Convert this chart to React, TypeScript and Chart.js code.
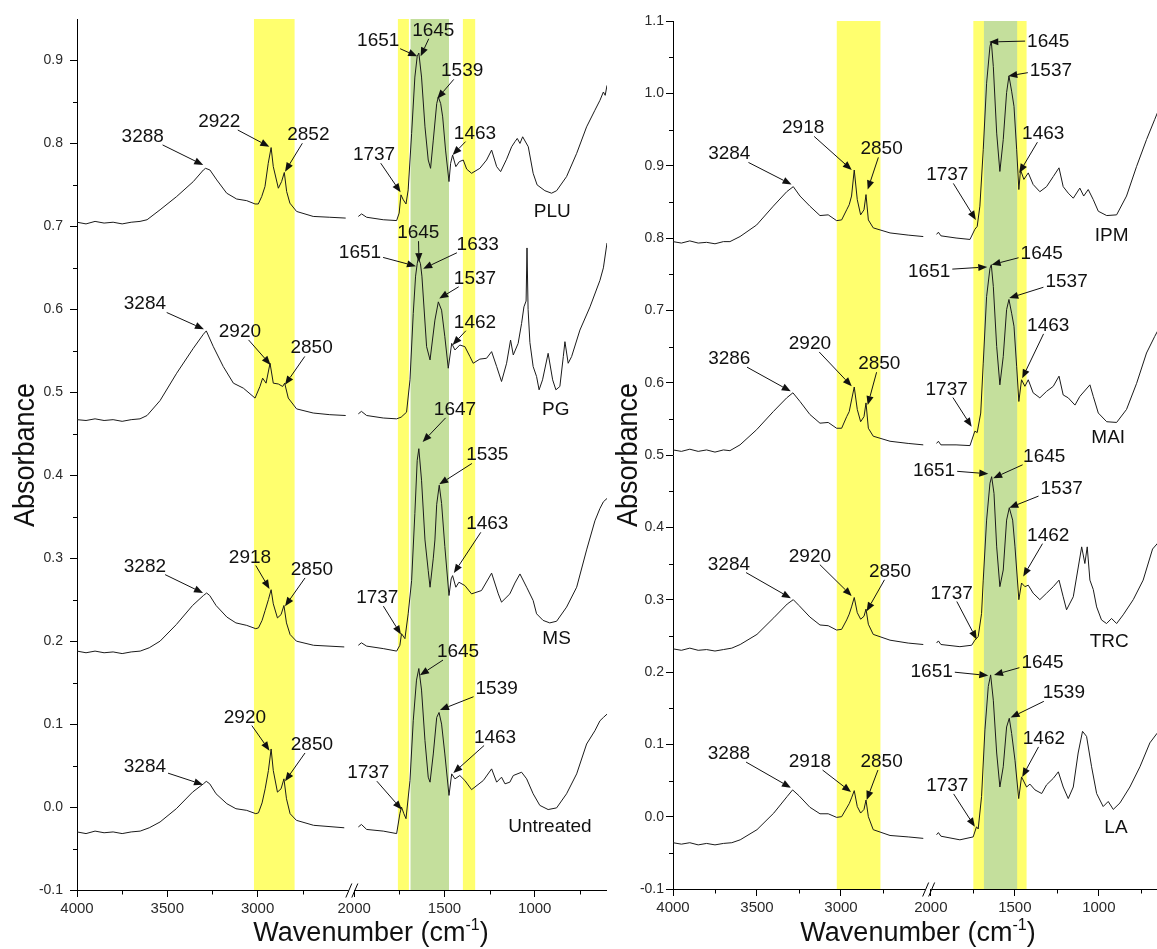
import React, { useEffect, useRef } from 'react';
import { Chart, registerables } from 'chart.js';

Chart.register(...registerables);

type Pair = [number, number];
type Label = [string, number, number, number | null, number | null];

// ---------- axis break: 4000..2480 shown as-is, 2000..600 shifted ----------
const BREAK_SHIFT = 465;
const BREAK_T = 2480;
const toT = (wn: number) => (wn > 2230 ? wn : wn + BREAK_SHIFT);
const toWn = (t: number) => (t >= BREAK_T ? t : t - BREAK_SHIFT);

const xMajorTicks = [4000, 3500, 3000, 2000, 1500, 1000];
const xMinorTicks = [3750, 3250, 2750, 1750, 1250, 750];
const X_MIN_WN = 600;
const X_MAX_WN = 4000;

const leftYMajor = [-0.1, 0, 0.1, 0.2, 0.3, 0.4, 0.5, 0.6, 0.7, 0.8, 0.9];
const leftYMinor = [-0.05, 0.05, 0.15, 0.25, 0.35, 0.45, 0.55, 0.65, 0.75, 0.85];
const rightYMajor = [-0.1, 0, 0.1, 0.2, 0.3, 0.4, 0.5, 0.6, 0.7, 0.8, 0.9, 1.0, 1.1];
const rightYMinor = [-0.05, 0.05, 0.15, 0.25, 0.35, 0.45, 0.55, 0.65, 0.75, 0.85, 0.95, 1.05];

// ---------- highlighted wavenumber bands ----------
const leftYellowBands: Pair[] = [[3020, 2795], [1758, 1697], [1398, 1330]];
const leftGreenBands: Pair[] = [[1688, 1475]];
const rightYellowBands: Pair[] = [[3025, 2765], [1747, 1430]];
const rightGreenBands: Pair[] = [[1684, 1486]];

// ---------- spectra (wavenumber, absorbance) ----------
const pluSpectrum: Pair[] = [
  [4000, 0.705], [3950, 0.703], [3900, 0.706], [3850, 0.704], [3800, 0.705], [3750, 0.703], [3700, 0.705],
  [3651, 0.706], [3612, 0.708], [3540, 0.72], [3448, 0.736], [3356, 0.754], [3300, 0.768], [3288, 0.77],
  [3264, 0.768], [3226, 0.756], [3171, 0.74], [3116, 0.733], [3060, 0.731], [3014, 0.727], [2996, 0.727],
  [2977, 0.736], [2959, 0.748], [2941, 0.776], [2925, 0.795], [2913, 0.772], [2885, 0.746], [2867, 0.754],
  [2852, 0.765], [2839, 0.742], [2821, 0.728], [2784, 0.718], [2692, 0.712], [2600, 0.711], [2512, 0.71],
  [1977, 0.712], [1959, 0.715], [1931, 0.711], [1839, 0.708], [1765, 0.707], [1751, 0.716], [1741, 0.738],
  [1728, 0.732], [1713, 0.727], [1701, 0.744], [1682, 0.812], [1664, 0.88], [1651, 0.905], [1642, 0.909],
  [1627, 0.88], [1608, 0.82], [1590, 0.78], [1577, 0.77], [1562, 0.804], [1543, 0.848], [1534, 0.856],
  [1521, 0.848], [1510, 0.832], [1494, 0.792], [1475, 0.754], [1466, 0.776], [1455, 0.786], [1437, 0.772],
  [1418, 0.778], [1396, 0.78], [1377, 0.769], [1350, 0.764], [1304, 0.77], [1267, 0.78], [1239, 0.792],
  [1211, 0.772], [1189, 0.766], [1156, 0.781], [1128, 0.796], [1110, 0.802], [1097, 0.806], [1082, 0.8],
  [1067, 0.808], [1036, 0.796], [1009, 0.764], [987, 0.75], [944, 0.743], [907, 0.74], [879, 0.743],
  [824, 0.76], [768, 0.788], [713, 0.82], [667, 0.84], [639, 0.852], [620, 0.862], [610, 0.858], [600, 0.87],
];

const pgSpectrum: Pair[] = [
  [4000, 0.467], [3950, 0.466], [3900, 0.468], [3850, 0.466], [3800, 0.467], [3750, 0.465], [3700, 0.467],
  [3651, 0.468], [3612, 0.472], [3540, 0.49], [3448, 0.523], [3356, 0.553], [3300, 0.57], [3284, 0.574],
  [3245, 0.555], [3190, 0.531], [3134, 0.511], [3079, 0.505], [3014, 0.493], [2987, 0.507], [2972, 0.517],
  [2953, 0.511], [2931, 0.535], [2913, 0.511], [2885, 0.51], [2861, 0.507], [2850, 0.511], [2830, 0.493],
  [2784, 0.48], [2692, 0.475], [2600, 0.473], [2512, 0.472],
  [1977, 0.474], [1960, 0.477], [1931, 0.472], [1839, 0.469], [1765, 0.468], [1740, 0.47], [1710, 0.476],
  [1691, 0.515], [1673, 0.595], [1660, 0.64], [1651, 0.655], [1645, 0.662], [1633, 0.655], [1625, 0.64],
  [1599, 0.555], [1580, 0.539], [1553, 0.587], [1534, 0.609], [1516, 0.599], [1498, 0.567], [1479, 0.529],
  [1460, 0.559], [1442, 0.551], [1415, 0.557], [1387, 0.555], [1359, 0.543], [1341, 0.535], [1304, 0.54],
  [1267, 0.541], [1239, 0.549], [1211, 0.531], [1184, 0.513], [1156, 0.535], [1134, 0.563], [1119, 0.545],
  [1092, 0.559], [1073, 0.583], [1060, 0.603], [1048, 0.61], [1043, 0.674], [1037, 0.6], [1027, 0.56],
  [1009, 0.531], [990, 0.519], [976, 0.503], [957, 0.515], [926, 0.547], [901, 0.515], [883, 0.503],
  [861, 0.507], [842, 0.543], [833, 0.561], [815, 0.535], [796, 0.543], [750, 0.575], [694, 0.603],
  [639, 0.635], [620, 0.65], [600, 0.68],
];

const msSpectrum: Pair[] = [
  [4000, 0.188], [3950, 0.186], [3900, 0.188], [3850, 0.186], [3800, 0.187], [3750, 0.185], [3700, 0.187],
  [3650, 0.188], [3600, 0.192], [3540, 0.2], [3450, 0.22], [3360, 0.243], [3300, 0.255], [3282, 0.258],
  [3265, 0.255], [3230, 0.243], [3170, 0.229], [3120, 0.222], [3060, 0.219], [3010, 0.215], [2995, 0.216],
  [2975, 0.225], [2958, 0.237], [2940, 0.25], [2925, 0.262], [2913, 0.245], [2890, 0.228], [2870, 0.232],
  [2854, 0.243], [2840, 0.222], [2820, 0.208], [2785, 0.2], [2690, 0.195], [2520, 0.193],
  [1977, 0.195], [1960, 0.198], [1931, 0.194], [1839, 0.191], [1765, 0.188], [1747, 0.195], [1738, 0.209],
  [1719, 0.203], [1701, 0.233], [1682, 0.273], [1664, 0.354], [1651, 0.418], [1642, 0.432], [1627, 0.394],
  [1608, 0.322], [1590, 0.285], [1580, 0.265], [1562, 0.3], [1553, 0.322], [1543, 0.365], [1529, 0.388],
  [1516, 0.366], [1498, 0.314], [1475, 0.255], [1463, 0.275], [1455, 0.279], [1437, 0.265], [1420, 0.271],
  [1387, 0.267], [1350, 0.257], [1295, 0.261], [1239, 0.282], [1202, 0.257], [1184, 0.247], [1138, 0.257],
  [1110, 0.27], [1082, 0.281], [1045, 0.265], [1009, 0.249], [990, 0.233], [954, 0.225], [917, 0.222],
  [879, 0.224], [824, 0.241], [768, 0.265], [713, 0.31], [667, 0.345], [639, 0.36], [620, 0.368], [600, 0.372],
];

const untreatedSpectrum: Pair[] = [
  [4000, -0.03], [3950, -0.032], [3900, -0.029], [3850, -0.031], [3800, -0.03], [3750, -0.032], [3700, -0.03],
  [3650, -0.029], [3600, -0.025], [3540, -0.018], [3450, -0.002], [3360, 0.018], [3300, 0.028], [3284, 0.031],
  [3265, 0.028], [3230, 0.016], [3170, 0.004], [3120, -0.002], [3060, -0.004], [3010, -0.008], [2995, -0.007],
  [2975, 0.005], [2958, 0.022], [2940, 0.044], [2925, 0.07], [2913, 0.044], [2890, 0.018], [2870, 0.022],
  [2854, 0.034], [2840, 0.01], [2820, -0.008], [2785, -0.016], [2690, -0.022], [2520, -0.025],
  [1977, -0.024], [1960, -0.021], [1931, -0.027], [1839, -0.029], [1765, -0.032], [1747, -0.008], [1738, 0.0],
  [1725, -0.008], [1713, -0.014], [1691, 0.032], [1673, 0.104], [1655, 0.153], [1642, 0.167], [1627, 0.141],
  [1608, 0.08], [1590, 0.036], [1580, 0.03], [1562, 0.064], [1543, 0.108], [1530, 0.114], [1516, 0.1],
  [1498, 0.064], [1475, 0.014], [1460, 0.04], [1442, 0.034], [1415, 0.038], [1387, 0.032], [1350, 0.021],
  [1285, 0.032], [1239, 0.046], [1211, 0.03], [1184, 0.036], [1165, 0.028], [1138, 0.03], [1119, 0.038],
  [1073, 0.042], [1045, 0.034], [1009, 0.016], [972, 0.002], [926, -0.003], [879, -0.001], [824, 0.016],
  [768, 0.04], [713, 0.076], [667, 0.092], [639, 0.104], [620, 0.108], [600, 0.112],
];

const ipmSpectrum: Pair[] = [
  [4000, 0.795], [3950, 0.793], [3900, 0.796], [3850, 0.793], [3800, 0.794], [3750, 0.792], [3700, 0.795],
  [3661, 0.795], [3601, 0.802], [3502, 0.818], [3403, 0.844], [3323, 0.864], [3284, 0.871], [3244, 0.858],
  [3185, 0.844], [3125, 0.831], [3076, 0.832], [3026, 0.824], [2996, 0.825], [2966, 0.839], [2951, 0.846],
  [2937, 0.858], [2921, 0.894], [2903, 0.853], [2883, 0.832], [2863, 0.839], [2851, 0.86], [2837, 0.825],
  [2808, 0.814], [2708, 0.807], [2600, 0.804], [2510, 0.802],
  [1966, 0.805], [1955, 0.808], [1940, 0.803], [1850, 0.8], [1767, 0.798], [1738, 0.812], [1724, 0.816],
  [1708, 0.844], [1688, 0.922], [1668, 1.014], [1648, 1.065], [1640, 1.072], [1628, 1.037], [1608, 0.945],
  [1589, 0.892], [1569, 0.936], [1549, 1.001], [1535, 1.024], [1519, 1.003], [1505, 0.982], [1489, 0.922],
  [1476, 0.867], [1466, 0.894], [1446, 0.881], [1420, 0.89], [1391, 0.874], [1351, 0.864], [1311, 0.871],
  [1271, 0.885], [1237, 0.897], [1212, 0.871], [1182, 0.862], [1152, 0.855], [1113, 0.869], [1090, 0.858],
  [1063, 0.867], [1033, 0.853], [1003, 0.837], [953, 0.831], [894, 0.832], [835, 0.858], [775, 0.899],
  [716, 0.936], [667, 0.964], [630, 0.985], [600, 1.0],
];

const maiSpectrum: Pair[] = [
  [4000, 0.507], [3950, 0.505], [3900, 0.508], [3850, 0.505], [3800, 0.507], [3750, 0.504], [3700, 0.507],
  [3661, 0.506], [3601, 0.514], [3502, 0.535], [3403, 0.56], [3323, 0.579], [3286, 0.586], [3244, 0.574],
  [3185, 0.556], [3125, 0.544], [3076, 0.545], [3026, 0.537], [2996, 0.537], [2966, 0.553], [2951, 0.56],
  [2937, 0.576], [2921, 0.594], [2903, 0.563], [2883, 0.546], [2863, 0.553], [2851, 0.572], [2837, 0.537],
  [2808, 0.526], [2708, 0.519], [2600, 0.516], [2510, 0.514],
  [1966, 0.516], [1955, 0.519], [1940, 0.514], [1850, 0.514], [1767, 0.513], [1738, 0.533], [1724, 0.531],
  [1703, 0.558], [1688, 0.627], [1668, 0.719], [1648, 0.758], [1640, 0.763], [1628, 0.733], [1608, 0.65],
  [1589, 0.597], [1569, 0.636], [1549, 0.701], [1535, 0.715], [1519, 0.696], [1505, 0.678], [1489, 0.622],
  [1476, 0.574], [1460, 0.604], [1440, 0.595], [1420, 0.604], [1391, 0.586], [1351, 0.579], [1311, 0.588],
  [1271, 0.595], [1237, 0.609], [1212, 0.583], [1182, 0.579], [1142, 0.569], [1113, 0.581], [1053, 0.597],
  [1033, 0.581], [1003, 0.558], [953, 0.546], [894, 0.545], [835, 0.563], [775, 0.599], [716, 0.641],
  [667, 0.664], [630, 0.68], [600, 0.69],
];

const trcSpectrum: Pair[] = [
  [4000, 0.232], [3950, 0.23], [3900, 0.233], [3850, 0.23], [3800, 0.231], [3750, 0.229], [3700, 0.231],
  [3650, 0.233], [3600, 0.238], [3500, 0.252], [3400, 0.275], [3320, 0.294], [3284, 0.3], [3250, 0.292],
  [3185, 0.276], [3125, 0.265], [3076, 0.264], [3026, 0.258], [2996, 0.259], [2966, 0.272], [2951, 0.28],
  [2937, 0.29], [2921, 0.303], [2903, 0.282], [2883, 0.273], [2863, 0.277], [2851, 0.287], [2837, 0.266],
  [2808, 0.252], [2708, 0.244], [2600, 0.24], [2510, 0.238],
  [1966, 0.24], [1955, 0.243], [1940, 0.238], [1827, 0.235], [1757, 0.237], [1738, 0.244], [1718, 0.249],
  [1698, 0.281], [1688, 0.327], [1668, 0.41], [1648, 0.461], [1638, 0.47], [1624, 0.447], [1608, 0.373],
  [1589, 0.318], [1569, 0.341], [1549, 0.41], [1533, 0.427], [1513, 0.41], [1499, 0.373], [1476, 0.3],
  [1460, 0.323], [1440, 0.318], [1420, 0.32], [1391, 0.309], [1351, 0.3], [1311, 0.309], [1271, 0.318],
  [1237, 0.327], [1212, 0.304], [1192, 0.286], [1152, 0.304], [1102, 0.373], [1083, 0.35], [1069, 0.373],
  [1053, 0.327], [1033, 0.314], [1013, 0.29], [984, 0.272], [954, 0.267], [924, 0.274], [894, 0.267],
  [855, 0.279], [795, 0.3], [736, 0.327], [680, 0.37], [650, 0.378], [620, 0.385], [600, 0.39],
];

const laSpectrum: Pair[] = [
  [4000, -0.036], [3950, -0.038], [3900, -0.036], [3850, -0.039], [3800, -0.037], [3750, -0.039], [3700, -0.037],
  [3650, -0.036], [3600, -0.032], [3500, -0.018], [3400, 0.005], [3320, 0.028], [3288, 0.037], [3250, 0.029],
  [3185, 0.013], [3125, 0.004], [3076, 0.004], [3026, -0.001], [2996, 0.0], [2966, 0.012], [2951, 0.018],
  [2937, 0.026], [2921, 0.036], [2903, 0.014], [2883, 0.005], [2863, 0.01], [2851, 0.023], [2837, 0.0],
  [2808, -0.018], [2708, -0.026], [2600, -0.028], [2510, -0.03],
  [1966, -0.025], [1955, -0.022], [1940, -0.027], [1827, -0.032], [1748, -0.028], [1728, -0.014], [1718, -0.017],
  [1698, 0.028], [1678, 0.12], [1658, 0.18], [1644, 0.196], [1628, 0.161], [1608, 0.088], [1589, 0.041],
  [1569, 0.069], [1549, 0.124], [1533, 0.136], [1519, 0.115], [1499, 0.078], [1477, 0.025], [1460, 0.055],
  [1430, 0.041], [1410, 0.045], [1380, 0.037], [1340, 0.032], [1311, 0.044], [1271, 0.053], [1241, 0.062],
  [1212, 0.041], [1182, 0.025], [1152, 0.041], [1123, 0.088], [1097, 0.118], [1073, 0.111], [1043, 0.069],
  [1013, 0.032], [974, 0.014], [944, 0.021], [914, 0.01], [874, 0.019], [815, 0.041], [755, 0.069],
  [696, 0.102], [654, 0.115], [620, 0.125], [600, 0.13],
];

// ---------- peak labels: text, wn, abs (text centre), arrow tip wn, abs ----------
const leftLabels: Label[] = [
  ['3288', 3636, 0.81, 3301, 0.774], ['2922', 3212, 0.828, 2935, 0.796], ['2852', 2719, 0.812, 2848, 0.766],
  ['1737', 1890, 0.788, 1743, 0.741], ['1651', 1867, 0.926, 1651, 0.905], ['1645', 1562, 0.938, 1632, 0.905],
  ['1539', 1402, 0.889, 1540, 0.854], ['1463', 1331, 0.814, 1455, 0.786], ['PLU', 903, 0.72, null, null],
  ['3284', 3624, 0.608, 3297, 0.576], ['2920', 3098, 0.575, 2928, 0.533], ['2850', 2701, 0.555, 2848, 0.509],
  ['1651', 1968, 0.67, 1658, 0.652], ['1645', 1645, 0.694, 1641, 0.657], ['1633', 1316, 0.68, 1618, 0.649],
  ['1537', 1331, 0.639, 1529, 0.613], ['1462', 1331, 0.586, 1455, 0.557], ['PG', 884, 0.481, null, null],
  ['3282', 3624, 0.292, 3302, 0.258], ['2918', 3042, 0.303, 2934, 0.263], ['2850', 2699, 0.288, 2848, 0.242],
  ['1647', 1442, 0.481, 1621, 0.44], ['1535', 1263, 0.426, 1529, 0.389], ['1463', 1263, 0.343, 1448, 0.282],
  ['1737', 1872, 0.254, 1741, 0.208], ['MS', 879, 0.205, null, null],
  ['3284', 3624, 0.05, 3302, 0.027], ['2920', 3070, 0.11, 2934, 0.068], ['2850', 2699, 0.077, 2848, 0.031],
  ['1737', 1922, 0.043, 1737, -0.003], ['1645', 1425, 0.189, 1636, 0.159], ['1539', 1211, 0.144, 1525, 0.117],
  ['1463', 1220, 0.086, 1451, 0.041], ['Untreated', 916, -0.022, null, null],
];

const rightLabels: Label[] = [
  ['3284', 3665, 0.918, 3294, 0.874], ['2918', 3225, 0.954, 2936, 0.894], ['2850', 2758, 0.925, 2841, 0.867],
  ['1737', 1902, 0.889, 1732, 0.825], ['1645', 1301, 1.073, 1652, 1.071], ['1537', 1285, 1.034, 1539, 1.024],
  ['1463', 1331, 0.946, 1474, 0.89], ['IPM', 924, 0.805, null, null],
  ['3286', 3665, 0.635, 3299, 0.588], ['2920', 3185, 0.656, 2936, 0.595], ['2850', 2772, 0.628, 2841, 0.569],
  ['1737', 1906, 0.593, 1757, 0.539], ['1651', 2010, 0.755, 1664, 0.76], ['1645', 1340, 0.781, 1638, 0.763],
  ['1537', 1192, 0.742, 1533, 0.717], ['1463', 1301, 0.681, 1456, 0.606], ['MAI', 944, 0.526, null, null],
  ['3284', 3667, 0.351, 3298, 0.302], ['2920', 3185, 0.362, 2936, 0.305], ['2850', 2708, 0.341, 2847, 0.284],
  ['1737', 1876, 0.311, 1727, 0.245], ['1651', 1981, 0.48, 1658, 0.474], ['1645', 1325, 0.5, 1629, 0.468],
  ['1537', 1221, 0.456, 1533, 0.427], ['1462', 1301, 0.391, 1450, 0.332], ['TRC', 938, 0.244, null, null],
  ['3288', 3667, 0.089, 3298, 0.04], ['2918', 3185, 0.078, 2940, 0.034], ['2850', 2758, 0.078, 2847, 0.023],
  ['1737', 1902, 0.045, 1738, -0.014], ['1651', 1995, 0.203, 1658, 0.195], ['1645', 1335, 0.215, 1624, 0.196],
  ['1539', 1208, 0.173, 1525, 0.137], ['1462', 1327, 0.11, 1456, 0.055], ['LA', 898, -0.013, null, null],
];

// ---------- styling / layout ----------
const FONT = '"Liberation Sans", Arial, sans-serif';
const YELLOW = '#FFFF6E';
const GREEN = '#C4DF9C';
const INK = '#111111';
const LABEL_PX = 19;

interface Layout {
  width: number; padTop: number; padRight: number; axisW: number; axisH: number;
  yLabelPad: number; yTitleX: number; yTitleY: number; xTitleX: number; xTitleY: number;
}
interface Panel {
  spectra: Pair[][]; labels: Label[]; yellow: Pair[]; green: Pair[];
  yMin: number; yMax: number; yMajor: number[]; yMinor: number[]; layout: Layout;
}

const leftPanel: Panel = {
  spectra: [pluSpectrum, pgSpectrum, msSpectrum, untreatedSpectrum],
  labels: leftLabels, yellow: leftYellowBands, green: leftGreenBands,
  yMin: -0.1, yMax: 0.95, yMajor: leftYMajor, yMinor: leftYMinor,
  layout: { width: 620, padTop: 19, padRight: 13, axisW: 77, axisH: 59, yLabelPad: 7, yTitleX: 26, yTitleY: 455, xTitleX: 371, xTitleY: 941 },
};
const rightPanel: Panel = {
  spectra: [ipmSpectrum, maiSpectrum, trcSpectrum, laSpectrum],
  labels: rightLabels, yellow: rightYellowBands, green: rightGreenBands,
  yMin: -0.1, yMax: 1.1, yMajor: rightYMajor, yMinor: rightYMinor,
  layout: { width: 600, padTop: 21, padRight: 34, axisW: 73, axisH: 60, yLabelPad: 2, yTitleX: 29, yTitleY: 455, xTitleX: 318, xTitleY: 941 },
};

function toPoints(spec: Pair[]) {
  const pts: { x: number; y: number | null }[] = [];
  let prev: number | null = null;
  for (const [wn, a] of spec) {
    if (prev !== null && prev > 2230 && wn <= 2230) pts.push({ x: BREAK_T - 5, y: null });
    pts.push({ x: toT(wn), y: a });
    prev = wn;
  }
  return pts;
}

function drawArrow(ctx: CanvasRenderingContext2D, x0: number, y0: number, x1: number, y1: number) {
  const ang = Math.atan2(y1 - y0, x1 - x0);
  const L = 9, W = 3.6;
  const bx = x1 - L * Math.cos(ang), by = y1 - L * Math.sin(ang);
  ctx.beginPath(); ctx.moveTo(x0, y0); ctx.lineTo(bx, by); ctx.stroke();
  ctx.beginPath();
  ctx.moveTo(x1, y1);
  ctx.lineTo(bx + W * Math.sin(ang), by - W * Math.cos(ang));
  ctx.lineTo(bx - W * Math.sin(ang), by + W * Math.cos(ang));
  ctx.closePath(); ctx.fill();
}

function makeOverlay(p: Panel) {
  return {
    id: 'ftirOverlay',
    beforeDatasetsDraw(chart: any) {
      const { ctx, chartArea: a } = chart;
      const xs = chart.scales.x;
      const band = (r: Pair, color: string) => {
        const x1 = xs.getPixelForValue(toT(r[0])), x2 = xs.getPixelForValue(toT(r[1]));
        ctx.fillStyle = color;
        ctx.fillRect(Math.min(x1, x2), a.top, Math.abs(x2 - x1), a.bottom - a.top);
      };
      ctx.save();
      p.yellow.forEach((r) => band(r, YELLOW));
      p.green.forEach((r) => band(r, GREEN));
      ctx.restore();
    },
    afterDatasetsDraw(chart: any) {
      const { ctx } = chart;
      const xs = chart.scales.x, ys = chart.scales.y;
      ctx.save();
      ctx.font = `${LABEL_PX}px ${FONT}`;
      ctx.fillStyle = INK; ctx.strokeStyle = INK; ctx.lineWidth = 1;
      ctx.textAlign = 'center'; ctx.textBaseline = 'alphabetic';
      const capHalf = LABEL_PX * 0.358;
      for (const [text, wn, ab, twn, tab] of p.labels) {
        const cx = xs.getPixelForValue(toT(wn)), cy = ys.getPixelForValue(ab);
        ctx.fillText(text, cx, cy + capHalf);
        if (twn == null || tab == null) continue;
        const tx = xs.getPixelForValue(toT(twn)), ty = ys.getPixelForValue(tab);
        const hw = ctx.measureText(text).width / 2 + 2, hh = capHalf + 3;
        const dx = tx - cx, dy = ty - cy;
        const s = Math.min(dx !== 0 ? hw / Math.abs(dx) : Infinity, dy !== 0 ? hh / Math.abs(dy) : Infinity);
        if (s >= 1) continue;
        drawArrow(ctx, cx + dx * s, cy + dy * s, tx, ty);
      }
      ctx.restore();
    },
    afterDraw(chart: any) {
      const { ctx, chartArea: a } = chart;
      const xs = chart.scales.x, ys = chart.scales.y;
      const L = p.layout;
      ctx.save();
      ctx.strokeStyle = '#000'; ctx.lineWidth = 1;
      const y0 = Math.round(a.bottom) + 0.5;
      const xb = xs.getPixelForValue(BREAK_T - 2);
      ctx.beginPath();
      ctx.moveTo(a.left, y0); ctx.lineTo(xb - 3, y0);
      ctx.moveTo(xb + 3, y0); ctx.lineTo(a.right, y0);
      ctx.stroke();
      for (const off of [-3, 3]) {
        ctx.beginPath(); ctx.moveTo(xb + off - 3, y0 + 7); ctx.lineTo(xb + off + 3, y0 - 7); ctx.stroke();
      }
      ctx.beginPath();
      xMinorTicks.forEach((wn) => {
        const x = Math.round(xs.getPixelForValue(toT(wn))) + 0.5;
        ctx.moveTo(x, y0); ctx.lineTo(x, y0 + 4);
      });
      p.yMinor.forEach((v) => {
        const y = Math.round(ys.getPixelForValue(v)) + 0.5;
        ctx.moveTo(a.left - 4, y); ctx.lineTo(a.left, y);
      });
      ctx.stroke();

      // axis titles
      ctx.fillStyle = INK;
      ctx.save();
      ctx.translate(L.yTitleX, L.yTitleY);
      ctx.rotate(-Math.PI / 2);
      ctx.scale(0.9, 1);
      ctx.font = `30px ${FONT}`;
      ctx.textAlign = 'center'; ctx.textBaseline = 'middle';
      ctx.fillText('Absorbance', 0, 0);
      ctx.restore();

      const main = 'Wavenumber (cm', sup = '-1', tail = ')';
      ctx.font = `27px ${FONT}`;
      const w1 = ctx.measureText(main).width, w3 = ctx.measureText(tail).width;
      ctx.font = `16px ${FONT}`;
      const w2 = ctx.measureText(sup).width;
      let x = L.xTitleX - (w1 + w2 + w3) / 2;
      ctx.textAlign = 'left'; ctx.textBaseline = 'alphabetic';
      ctx.font = `27px ${FONT}`; ctx.fillText(main, x, L.xTitleY); x += w1;
      ctx.font = `16px ${FONT}`; ctx.fillText(sup, x, L.xTitleY - 11); x += w2;
      ctx.font = `27px ${FONT}`; ctx.fillText(tail, x, L.xTitleY);
      ctx.restore();
    },
  };
}

function buildChart(canvas: HTMLCanvasElement, p: Panel) {
  const L = p.layout;
  return new Chart(canvas, {
    type: 'line',
    data: {
      datasets: p.spectra.map((s) => ({
        data: toPoints(s),
        borderColor: '#1a1a1a',
        borderWidth: 1,
        pointRadius: 0,
        fill: false,
        tension: 0,
        spanGaps: false,
      })),
    },
    options: {
      animation: false,
      responsive: false,
      maintainAspectRatio: false,
      layout: { padding: { top: L.padTop, right: L.padRight, left: 0, bottom: 0 } },
      plugins: { legend: { display: false }, tooltip: { enabled: false } },
      scales: {
        x: {
          type: 'linear',
          reverse: true,
          min: toT(X_MIN_WN),
          max: X_MAX_WN,
          afterBuildTicks: (s: any) => {
            s.ticks = xMajorTicks.map((wn) => ({ value: toT(wn) })).sort((m: any, n: any) => m.value - n.value);
          },
          afterFit: (s: any) => { s.height = L.axisH; },
          border: { display: false },
          grid: { drawOnChartArea: false, drawTicks: true, tickLength: 7, color: '#000', lineWidth: 1 },
          ticks: {
            autoSkip: false, maxRotation: 0, minRotation: 0, padding: 3,
            color: '#2a2a2a', font: { family: FONT, size: 15 },
            callback: (v: any) => String(Math.round(toWn(Number(v)))),
          },
        },
        y: {
          type: 'linear',
          min: p.yMin,
          max: p.yMax,
          afterBuildTicks: (s: any) => { s.ticks = p.yMajor.map((v) => ({ value: v })); },
          afterFit: (s: any) => { s.width = L.axisW; },
          border: { display: true, color: '#000', width: 1 },
          grid: { drawOnChartArea: false, drawTicks: true, tickLength: 7, color: '#000', lineWidth: 1 },
          ticks: {
            padding: L.yLabelPad, color: '#2a2a2a', font: { family: FONT, size: 14 },
            callback: (v: any) => Number(v).toFixed(1),
          },
        },
      },
    } as any,
    plugins: [makeOverlay(p)],
  });
}

export default function App() {
  const leftRef = useRef<HTMLCanvasElement>(null);
  const rightRef = useRef<HTMLCanvasElement>(null);
  useEffect(() => {
    const c1 = buildChart(leftRef.current as HTMLCanvasElement, leftPanel);
    const c2 = buildChart(rightRef.current as HTMLCanvasElement, rightPanel);
    return () => { c1.destroy(); c2.destroy(); };
  }, []);
  return (
    <div style={{ position: 'absolute', left: 0, top: 0, width: 1157, height: 949, overflow: 'hidden', background: '#fff' }}>
      <canvas ref={leftRef} width={leftPanel.layout.width} height={949} style={{ position: 'absolute', left: 0, top: 0 }} />
      <canvas ref={rightRef} width={rightPanel.layout.width} height={949} style={{ position: 'absolute', left: 600, top: 0 }} />
    </div>
  );
}
